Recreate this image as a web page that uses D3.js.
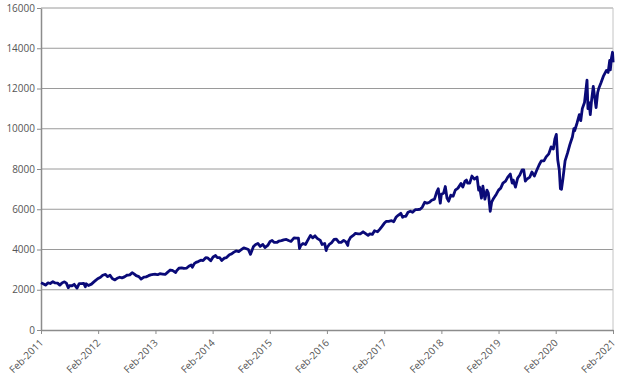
<!DOCTYPE html>
<html>
<head>
<meta charset="utf-8">
<script src="https://cdn.jsdelivr.net/npm/d3@7"></script>
<style>
  body { margin: 0; background: #fff; }
  text { font-family: "Open Sans", sans-serif; }
</style>
</head>
<body>
<div id="chart"></div>
<script>
const width = 619
const height = 380
const margin = {top: 8, bottom: 50, left: 41, right: 6}
const netWidth = width - margin.left - margin.right
const netHeight = height - margin.top - margin.bottom

// Series: dates and index levels
const dates = [
  "2011-02-15","2011-03-01","2011-03-16","2011-04-01","2011-04-15","2011-05-02","2011-05-16","2011-06-01","2011-06-15","2011-07-01",
  "2011-07-15","2011-07-27","2011-08-08","2011-08-15","2011-09-01","2011-09-15","2011-10-03","2011-10-17","2011-11-01","2011-11-15",
  "2011-11-25","2011-12-01","2011-12-15","2012-01-03","2012-01-17","2012-02-01","2012-02-15","2012-03-01","2012-03-15","2012-04-02",
  "2012-04-16","2012-05-01","2012-05-15","2012-06-01","2012-06-15","2012-07-02","2012-07-16","2012-08-01","2012-08-15","2012-09-04",
  "2012-09-19","2012-10-01","2012-10-15","2012-11-01","2012-11-15","2012-12-03","2012-12-17","2013-01-02","2013-01-15","2013-02-01",
  "2013-02-15","2013-03-01","2013-03-15","2013-04-01","2013-04-18","2013-05-01","2013-05-20","2013-06-03","2013-06-24","2013-07-01",
  "2013-07-15","2013-08-01","2013-08-15","2013-09-03","2013-09-16","2013-10-01","2013-10-09","2013-10-21","2013-11-01","2013-11-15",
  "2013-12-02","2013-12-16","2014-01-02","2014-01-15","2014-02-03","2014-02-18","2014-03-06","2014-03-17","2014-04-01","2014-04-14",
  "2014-05-01","2014-05-15","2014-06-02","2014-06-16","2014-07-01","2014-07-15","2014-08-01","2014-08-15","2014-09-02","2014-09-15",
  "2014-10-01","2014-10-15","2014-11-03","2014-11-17","2014-12-01","2014-12-16","2015-01-02","2015-01-15","2015-02-02","2015-02-17",
  "2015-03-02","2015-03-16","2015-04-01","2015-04-15","2015-05-01","2015-05-15","2015-06-01","2015-06-15","2015-07-01","2015-07-20",
  "2015-08-03","2015-08-17","2015-08-24","2015-09-01","2015-09-15","2015-10-01","2015-10-15","2015-11-02","2015-11-16","2015-12-01",
  "2015-12-15","2016-01-04","2016-01-15","2016-02-01","2016-02-10","2016-02-16","2016-03-01","2016-03-15","2016-04-01","2016-04-15",
  "2016-05-02","2016-05-16","2016-06-01","2016-06-15","2016-06-27","2016-07-01","2016-07-15","2016-08-01","2016-08-15","2016-09-01",
  "2016-09-15","2016-10-03","2016-10-17","2016-11-04","2016-11-15","2016-12-01","2016-12-15","2017-01-03","2017-01-17","2017-02-01",
  "2017-02-15","2017-03-01","2017-03-15","2017-04-03","2017-04-17","2017-05-01","2017-05-15","2017-06-01","2017-06-12","2017-06-15",
  "2017-07-03","2017-07-17","2017-08-01","2017-08-15","2017-09-01","2017-09-15","2017-10-02","2017-10-16","2017-11-01","2017-11-15",
  "2017-12-01","2017-12-15","2018-01-02","2018-01-16","2018-01-26","2018-02-08","2018-02-15","2018-03-01","2018-03-12","2018-03-23",
  "2018-04-02","2018-04-16","2018-05-01","2018-05-15","2018-06-01","2018-06-20","2018-07-02","2018-07-16","2018-07-25","2018-08-01",
  "2018-08-15","2018-08-29","2018-09-14","2018-10-01","2018-10-11","2018-10-17","2018-10-29","2018-11-07","2018-11-20","2018-12-03",
  "2018-12-12","2018-12-24","2019-01-02","2019-01-15","2019-02-01","2019-02-15","2019-03-01","2019-03-15","2019-04-01","2019-04-15",
  "2019-05-01","2019-05-13","2019-05-20","2019-06-03","2019-06-17","2019-07-01","2019-07-15","2019-07-26","2019-08-05","2019-08-15",
  "2019-09-03","2019-09-16","2019-10-02","2019-10-15","2019-11-01","2019-11-15","2019-12-02","2019-12-16","2020-01-02","2020-01-17",
  "2020-01-31","2020-02-10","2020-02-19","2020-02-28","2020-03-09","2020-03-16","2020-03-23","2020-04-01","2020-04-15","2020-05-01",
  "2020-05-15","2020-06-01","2020-06-10","2020-06-15","2020-07-01","2020-07-15","2020-07-24","2020-08-03","2020-08-17","2020-09-02",
  "2020-09-08","2020-09-15","2020-09-23","2020-10-01","2020-10-12","2020-10-30","2020-11-09","2020-11-16","2020-12-01","2020-12-15",
  "2021-01-04","2021-01-15","2021-01-25","2021-01-29","2021-02-05","2021-02-12","2021-02-16"
]
const values = [
  2350,2300,2230,2340,2310,2400,2340,2330,2230,2350,
  2390,2330,2100,2200,2200,2270,2080,2300,2300,2320,
  2150,2300,2210,2280,2380,2480,2560,2620,2720,2760,
  2650,2720,2560,2490,2570,2620,2590,2640,2720,2740,
  2850,2790,2700,2650,2530,2630,2640,2700,2740,2760,
  2770,2750,2800,2780,2760,2850,2980,2960,2860,2950,
  3070,3090,3060,3080,3170,3230,3120,3300,3360,3400,
  3470,3450,3590,3580,3440,3630,3700,3600,3600,3450,
  3570,3600,3740,3780,3870,3930,3900,3980,4080,4050,
  4000,3760,4150,4250,4300,4150,4250,4100,4200,4400,
  4450,4350,4350,4420,4440,4480,4500,4450,4400,4580,
  4570,4560,4050,4200,4300,4250,4450,4700,4580,4680,
  4550,4450,4250,4300,3950,4100,4250,4330,4500,4520,
  4350,4350,4450,4380,4200,4400,4600,4700,4800,4780,
  4780,4880,4800,4700,4780,4750,4930,4880,5000,5150,
  5300,5400,5400,5430,5380,5600,5700,5800,5600,5650,
  5650,5850,5900,5850,5980,5980,6000,6100,6350,6300,
  6350,6450,6500,6850,7020,6300,6750,6800,7130,6550,
  6400,6700,6650,6950,7050,7280,7100,7400,7450,7300,
  7300,7650,7500,7600,6950,7100,6550,7150,6500,6950,
  6800,5900,6350,6550,6750,6950,7050,7300,7400,7600,
  7750,7300,7450,7100,7550,7700,7950,7950,7400,7500,
  7600,7850,7650,7900,8200,8400,8400,8600,8750,9100,
  8990,9500,9720,8460,7950,7020,6990,7500,8400,8800,
  9200,9600,10000,9900,10300,10700,10400,11000,11300,12420,
  11000,11300,10700,11400,12100,11050,11800,12000,12300,12600,
  12900,12800,13400,12925,13500,13800,13300
]
const data = dates.map((d, i) => ({date: d3.timeParse("%Y-%m-%d")(d), value: values[i]}))

// Axis ticks
const xTickDates = d3.range(2011, 2022).map(y => new Date(y, 1, 15))
const yTicks = d3.range(0, 16001, 2000)

const svg = d3.select("div#chart").append("svg").attr("width", width).attr("height", height)
const elementGroup = svg.append("g").attr("transform", `translate(${margin.left}, ${margin.top})`)

const x = d3.scaleTime().domain([new Date(2011, 1, 15), new Date(2021, 1, 15)]).range([0, netWidth])
const y = d3.scaleLinear().domain([0, 16000]).range([netHeight, 0])

// Gridlines
elementGroup.append("g").selectAll("line")
  .data(yTicks.filter(d => d > 0))
  .enter().append("line")
  .attr("x1", 0).attr("x2", netWidth)
  .attr("y1", d => y(d)).attr("y2", d => y(d))
  .attr("stroke", "#9a9a9a").attr("stroke-width", 1)

// Right frame
elementGroup.append("line")
  .attr("x1", netWidth).attr("x2", netWidth).attr("y1", 0).attr("y2", netHeight)
  .attr("stroke", "#c4c4c4").attr("stroke-width", 1)

// Axes
const yAxis = d3.axisLeft(y).tickValues(yTicks).tickFormat(d3.format("d")).tickSize(4).tickSizeOuter(0).tickPadding(2)
const xAxis = d3.axisBottom(x).tickValues(xTickDates).tickFormat(d3.timeFormat("%b-%Y")).tickSize(4).tickSizeOuter(0)

const yAxisGroup = elementGroup.append("g").call(yAxis)
const xAxisGroup = elementGroup.append("g").attr("transform", `translate(0, ${netHeight})`).call(xAxis)

for (const g of [yAxisGroup, xAxisGroup]) {
  g.select(".domain").attr("stroke", "#8c8c8c").attr("stroke-width", 1.5)
  g.selectAll(".tick line").attr("stroke", "#8c8c8c")
  g.selectAll("text").attr("fill", "#555").attr("font-size", 10).attr("font-family", "'Open Sans', sans-serif")
}

xAxisGroup.selectAll("text")
  .attr("text-anchor", "end")
  .attr("x", 0)
  .attr("y", 0)
  .attr("dx", 0)
  .attr("dy", "0.35em")
  .attr("transform", "translate(0, 11) rotate(-45)")

// Line
const line = d3.line().x(d => x(d.date)).y(d => y(d.value))
elementGroup.append("path")
  .datum(data)
  .attr("d", line)
  .attr("fill", "none")
  .attr("stroke", "#0a0a78")
  .attr("stroke-width", 2.8)
  .attr("stroke-linejoin", "round")
</script>
</body>
</html>
